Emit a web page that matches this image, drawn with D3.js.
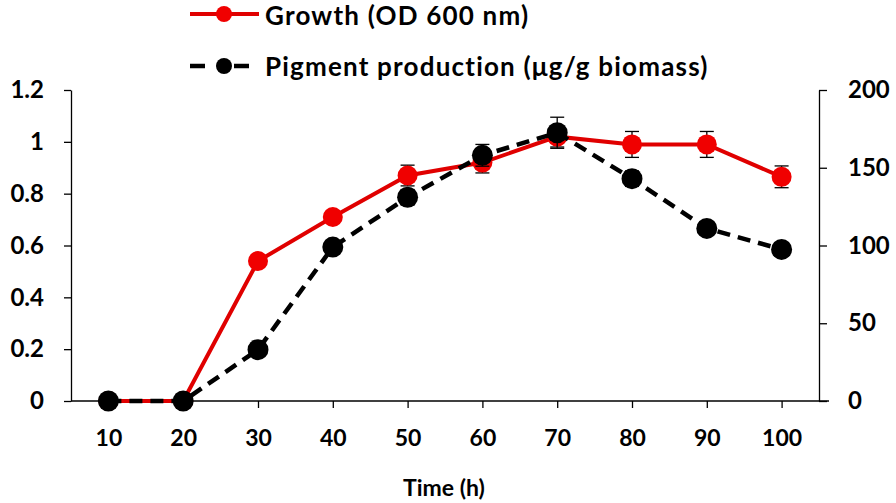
<!DOCTYPE html>
<html><head><meta charset="utf-8">
<script src="https://cdn.jsdelivr.net/npm/d3@7"></script>
<style>body{margin:0;background:#fff}svg{display:block}text{font-family:Lato,"Open Sans",sans-serif;font-weight:bold;fill:#000}</style>
</head><body>
<script>
const times = [10,20,30,40,50,60,70,80,90,100];
const growth = [0,0,0.54,0.71,0.87,0.92,1.02,0.99,0.99,0.865];
const growthErr = [0,0,0.01,0.01,0.04,0.04,0.04,0.05,0.05,0.042];
const pigment = [0,0,33,99,131,158,172.5,143,111,97.5];
const pigmentErr = [0,0,2,2,5,7,10,5,3,2];
const leftTicks = [0,0.2,0.4,0.6,0.8,1,1.2];
const rightTicks = [0,50,100,150,200];
const seriesNames = ["Growth (OD 600 nm)","Pigment production (\u03bcg/g biomass)"];

const W=896,H=503;
const svg=d3.select("body").append("svg").attr("width",W).attr("height",H);
const x=d3.scaleLinear().domain([5,105]).range([71,819]);
const yL=d3.scaleLinear().domain([0,1.2]).range([401,90]);
const yR=d3.scaleLinear().domain([0,200]).range([401,90]);

function styleAxis(g){g.select(".domain").attr("stroke","#000").attr("stroke-width",1.3);
 g.selectAll(".tick line").attr("stroke","#000").attr("stroke-width",1.3);
 g.selectAll(".tick text").style("font-size","24px");}

svg.append("g").attr("transform","translate(71,0)")
 .call(d3.axisLeft(yL).tickValues(leftTicks).tickFormat(d=>String(d)).tickSize(7).tickSizeOuter(0).tickPadding(20))
 .call(styleAxis);
svg.append("g").attr("transform","translate(819,0)")
 .call(d3.axisRight(yR).tickValues(rightTicks).tickSize(8).tickSizeOuter(0).tickPadding(21))
 .call(styleAxis);
const xa=svg.append("g").attr("transform","translate(0,401)")
 .call(d3.axisBottom(x).tickValues(times).tickSize(7).tickSizeOuter(0).tickPadding(22))
 .call(styleAxis);
xa.select(".domain").attr("d","M71,0H829");
xa.selectAll(".tick text").style("font-size","23px");

svg.append("text").attr("x",444).attr("y",496).attr("text-anchor","middle").style("font-size","23px").text("Time (h)");

const lineG=d3.line().x((d,i)=>x(times[i])).y(d=>yL(d));
const lineP=d3.line().x((d,i)=>x(times[i])).y(d=>yR(d));
svg.append("path").attr("d",lineG(growth)).attr("fill","none").attr("stroke","#e00000").attr("stroke-width",4);
const eg=svg.append("g").attr("stroke","#000").attr("stroke-width",1.3);
times.forEach((t,i)=>{ if(growthErr[i]>0){const cx=x(t),y1=yL(growth[i]+growthErr[i]),y2=yL(growth[i]-growthErr[i]);
 eg.append("line").attr("x1",cx).attr("x2",cx).attr("y1",y1).attr("y2",y2);
 eg.append("line").attr("x1",cx-7).attr("x2",cx+7).attr("y1",y1).attr("y2",y1);
 eg.append("line").attr("x1",cx-7).attr("x2",cx+7).attr("y1",y2).attr("y2",y2);}});
svg.append("g").selectAll("circle").data(growth).join("circle")
 .attr("cx",(d,i)=>x(times[i])).attr("cy",d=>yL(d)).attr("r",10).attr("fill","#f00000");

svg.append("path").attr("d",lineP(pigment)).attr("fill","none").attr("stroke","#000").attr("stroke-width",4.5).attr("stroke-dasharray","13,8");
const ep=svg.append("g").attr("stroke","#000").attr("stroke-width",1.3);
times.forEach((t,i)=>{ if(pigmentErr[i]>0){const cx=x(t),y1=yR(pigment[i]+pigmentErr[i]),y2=yR(pigment[i]-pigmentErr[i]);
 ep.append("line").attr("x1",cx).attr("x2",cx).attr("y1",y1).attr("y2",y2);
 ep.append("line").attr("x1",cx-7).attr("x2",cx+7).attr("y1",y1).attr("y2",y1);
 ep.append("line").attr("x1",cx-7).attr("x2",cx+7).attr("y1",y2).attr("y2",y2);}});
svg.append("g").selectAll("circle").data(pigment).join("circle")
 .attr("cx",(d,i)=>x(times[i])).attr("cy",d=>yR(d)).attr("r",10.5).attr("fill","#000");

const lg=svg.append("g");
lg.append("line").attr("x1",190).attr("x2",259).attr("y1",14).attr("y2",14).attr("stroke","#e00000").attr("stroke-width",4);
lg.append("circle").attr("cx",224).attr("cy",14).attr("r",8).attr("fill","#f00000");
lg.append("text").attr("x",265).attr("y",25).style("font-size","26px").style("letter-spacing","1.2px").text(seriesNames[0]);
lg.append("line").attr("x1",190).attr("x2",259).attr("y1",66).attr("y2",66).attr("stroke","#000").attr("stroke-width",4.5).attr("stroke-dasharray","15,10,0,19,15");
lg.append("circle").attr("cx",224).attr("cy",66).attr("r",8).attr("fill","#000");
lg.append("text").attr("x",265).attr("y",76).style("font-size","26px").style("letter-spacing","1.2px").text(seriesNames[1]);
</script>
</body></html>
